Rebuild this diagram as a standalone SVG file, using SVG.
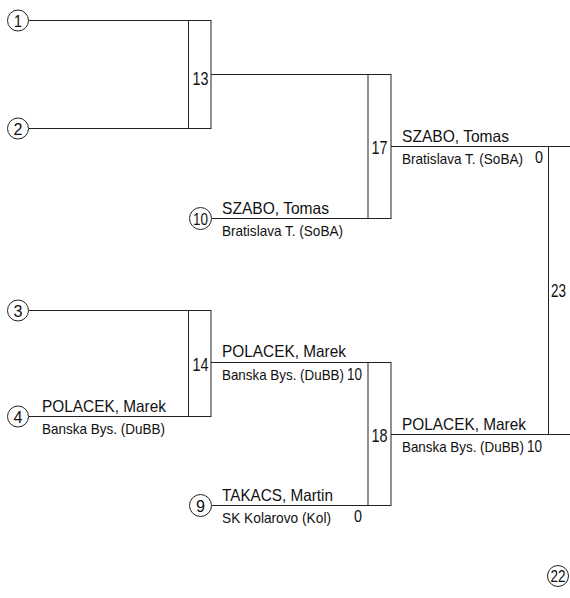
<svg xmlns="http://www.w3.org/2000/svg" width="570" height="598" viewBox="0 0 570 598">
<style>
.ln{stroke:#222;stroke-width:1;fill:none}
.bx{stroke:#222;stroke-width:1;fill:none}
.cc{stroke:#222;stroke-width:1;fill:#fff}
.nm{font-family:"Liberation Sans",Arial,sans-serif;font-size:16.5px;fill:#111}
.cl{font-family:"Liberation Sans",Arial,sans-serif;font-size:14.5px;fill:#111}
.num{font-family:"Liberation Sans",Arial,sans-serif;font-size:19px;fill:#111}
.sc{font-family:"Liberation Sans",Arial,sans-serif;font-size:17px;fill:#111}
.cn{font-family:"Liberation Sans",Arial,sans-serif;font-size:17px;fill:#111;text-anchor:middle}
</style>
<rect width="570" height="598" fill="#fff"/>
<g id="connectors">
<line class="ln" x1="29" y1="20.5" x2="211" y2="20.5"/>
<line class="ln" x1="29" y1="128.5" x2="211" y2="128.5"/>
<line class="ln" x1="211" y1="74.5" x2="391" y2="74.5"/>
<line class="ln" x1="212" y1="218.5" x2="391" y2="218.5"/>
<line class="ln" x1="391" y1="146.5" x2="570" y2="146.5"/>
<line class="ln" x1="548.5" y1="146" x2="548.5" y2="434"/>
<line class="ln" x1="29" y1="310.5" x2="211" y2="310.5"/>
<line class="ln" x1="29" y1="416.5" x2="211" y2="416.5"/>
<line class="ln" x1="211" y1="362.5" x2="391" y2="362.5"/>
<line class="ln" x1="212" y1="505.5" x2="391" y2="505.5"/>
<line class="ln" x1="391" y1="434.5" x2="570" y2="434.5"/>
</g>
<g id="seed1"><circle class="cc" cx="18" cy="20.5" r="10.5"/><text class="cn" x="18" y="26.5" textLength="8" lengthAdjust="spacingAndGlyphs">1</text></g>
<g id="seed2"><circle class="cc" cx="18" cy="128.5" r="10.5"/><text class="cn" x="18" y="134.5" textLength="9" lengthAdjust="spacingAndGlyphs">2</text></g>
<g id="seed3"><circle class="cc" cx="18" cy="310.5" r="10.5"/><text class="cn" x="18" y="316.5" textLength="9" lengthAdjust="spacingAndGlyphs">3</text></g>
<g id="seed4"><circle class="cc" cx="18" cy="416.5" r="10.5"/><text class="cn" x="18" y="422.5" textLength="9" lengthAdjust="spacingAndGlyphs">4</text>
<text class="nm" x="42" y="412" textLength="124" lengthAdjust="spacingAndGlyphs">POLACEK, Marek</text><text class="cl" x="42" y="434" textLength="123" lengthAdjust="spacingAndGlyphs">Banska Bys. (DuBB)</text></g>
<g id="seed10"><circle class="cc" cx="200.5" cy="218.5" r="11"/><text class="cn" x="200.5" y="224.5" textLength="15" lengthAdjust="spacingAndGlyphs">10</text>
<text class="nm" x="222" y="214" textLength="107" lengthAdjust="spacingAndGlyphs">SZABO, Tomas</text><text class="cl" x="222" y="236" textLength="121" lengthAdjust="spacingAndGlyphs">Bratislava T. (SoBA)</text></g>
<g id="seed9"><circle class="cc" cx="200.5" cy="505.5" r="11"/><text class="cn" x="200.5" y="511.5" textLength="9" lengthAdjust="spacingAndGlyphs">9</text>
<text class="nm" x="222" y="501" textLength="111" lengthAdjust="spacingAndGlyphs">TAKACS, Martin</text><text class="cl" x="222" y="523" textLength="109" lengthAdjust="spacingAndGlyphs">SK Kolarovo (Kol)</text><text class="sc" x="354" y="522" textLength="8" lengthAdjust="spacingAndGlyphs">0</text></g>
<g id="m13"><rect class="bx" x="188.5" y="20.5" width="22.5" height="108"/><text class="num" x="192.5" y="84.5" textLength="16" lengthAdjust="spacingAndGlyphs">13</text></g>
<g id="m14"><rect class="bx" x="188.5" y="310.5" width="22.5" height="106"/><text class="num" x="192.5" y="371" textLength="16" lengthAdjust="spacingAndGlyphs">14</text>
<text class="nm" x="222" y="357" textLength="124" lengthAdjust="spacingAndGlyphs">POLACEK, Marek</text><text class="cl" x="222" y="380" textLength="122" lengthAdjust="spacingAndGlyphs">Banska Bys. (DuBB)</text><text class="sc" x="347" y="380" textLength="15" lengthAdjust="spacingAndGlyphs">10</text></g>
<g id="m17"><rect class="bx" x="368" y="74.5" width="23" height="144"/><text class="num" x="371.5" y="154" textLength="16" lengthAdjust="spacingAndGlyphs">17</text>
<text class="nm" x="402" y="142" textLength="107" lengthAdjust="spacingAndGlyphs">SZABO, Tomas</text><text class="cl" x="402" y="164" textLength="121" lengthAdjust="spacingAndGlyphs">Bratislava T. (SoBA)</text><text class="sc" x="535" y="163" textLength="8" lengthAdjust="spacingAndGlyphs">0</text></g>
<g id="m18"><rect class="bx" x="368" y="362.5" width="23" height="143"/><text class="num" x="371.5" y="442" textLength="16" lengthAdjust="spacingAndGlyphs">18</text>
<text class="nm" x="402" y="430" textLength="124" lengthAdjust="spacingAndGlyphs">POLACEK, Marek</text><text class="cl" x="402" y="452" textLength="122" lengthAdjust="spacingAndGlyphs">Banska Bys. (DuBB)</text><text class="sc" x="527" y="452" textLength="15" lengthAdjust="spacingAndGlyphs">10</text></g>
<g id="m23"><text class="num" x="551" y="297" textLength="15" lengthAdjust="spacingAndGlyphs">23</text></g>
<g id="m22"><circle class="cc" cx="558" cy="576" r="10.5"/><text class="cn" x="558" y="582" textLength="15" lengthAdjust="spacingAndGlyphs">22</text></g>
</svg>
